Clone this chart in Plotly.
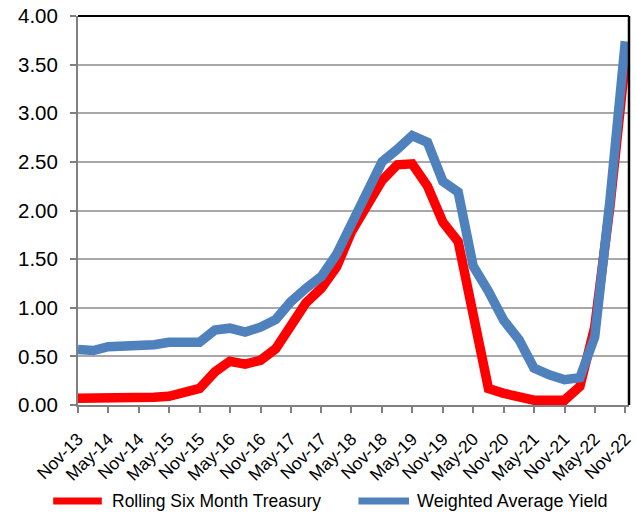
import pandas as pd
import plotly.graph_objects as go

# Quarterly observations, Nov-2013 through Nov-2022
quarters = pd.date_range("2013-11-01", "2022-11-01", freq="3MS")

rolling_six_month_treasury = [
    0.07, 0.07, 0.07, 0.06, 0.06, 0.08, 0.09, 0.12, 0.17,
    0.34, 0.45, 0.42, 0.46, 0.58, 0.80, 1.05, 1.20, 1.42,
    1.78, 2.07, 2.31, 2.47, 2.48, 2.25, 1.88, 1.68, 0.90,
    0.17, 0.12, 0.09, 0.05, 0.05, 0.05, 0.19, 0.80, 2.05,
    3.55,
]

weighted_average_yield = [
    0.57, 0.56, 0.60, 0.60, 0.62, 0.62, 0.645, 0.645, 0.645,
    0.77, 0.79, 0.75, 0.80, 0.88, 1.06, 1.20, 1.32, 1.55,
    1.86, 2.22, 2.50, 2.63, 2.77, 2.70, 2.30, 2.19, 1.43,
    1.17, 0.87, 0.67, 0.38, 0.31, 0.26, 0.28, 0.70, 2.11,
    3.74,
]

tick_dates = pd.date_range("2013-11-01", "2022-11-01", freq="6MS")
tick_labels = [
    "Nov-13", "May-14", "Nov-14", "May-15", "Nov-15", "May-16", "Nov-16",
    "May-17", "Nov-17", "May-18", "Nov-18", "May-19", "Nov-19", "May-20",
    "Nov-20", "May-21", "Nov-21", "May-22", "Nov-22",
]

series_names = ["Rolling Six Month Treasury", "Weighted Average Yield"]
series_colors = ["#FF0000", "#4F81BD"]

FONT = "Liberation Sans, Arial, sans-serif"

fig = go.Figure()
for name, values, color in zip(series_names,
                               [rolling_six_month_treasury, weighted_average_yield],
                               series_colors):
    fig.add_trace(go.Scatter(
        x=quarters, y=values, name=name, mode="lines",
        line=dict(color=color, width=9.5),
        showlegend=False,
    ))

fig.update_layout(
    width=636, height=515,
    margin=dict(l=78, r=2, t=16, b=110),
    paper_bgcolor="white", plot_bgcolor="white",
    font=dict(family=FONT, color="black"),
    xaxis=dict(
        type="date",
        range=["2013-11-01", "2022-11-23"],
        tickvals=tick_dates, ticktext=tick_labels,
        tickangle=-45,
        tickfont=dict(size=17.5, family=FONT, color="black"),
        ticks="outside", ticklen=6, tickwidth=1.5, tickcolor="#808080",
        ticklabelstandoff=9,
        ticklabeloverflow="allow",
        showline=True, linecolor="#808080", linewidth=2,
        showgrid=False, zeroline=False,
    ),
    yaxis=dict(
        range=[0, 4], dtick=0.5, tick0=0, tickformat=".2f",
        tickfont=dict(size=20.5, family=FONT, color="black"),
        ticks="outside", ticklen=6, tickwidth=1.5, tickcolor="#808080",
        ticklabelstandoff=8,
        showline=True, linecolor="#808080", linewidth=2,
        showgrid=True, gridcolor="#A8A8A8", gridwidth=1.5,
        zeroline=False,
    ),
)

# Black frame along the top and right of the plotting area
fig.add_shape(type="line", xref="paper", yref="paper", x0=0, x1=1, y0=1, y1=1,
              line=dict(color="black", width=2))
fig.add_shape(type="line", xref="paper", yref="paper", x0=1, x1=1, y0=0, y1=1,
              line=dict(color="black", width=2.5))

# Legend below the chart
legend_y = -0.2468
legend_items = [
    (-0.045, 0.0432, 0.0576, 17.5),
    (0.509, 0.6007, 0.6115, 18),
]
for (sx0, sx1, tx, fs), name, color in zip(legend_items, series_names, series_colors):
    fig.add_shape(type="line", xref="paper", yref="paper",
                  x0=sx0, x1=sx1, y0=legend_y, y1=legend_y,
                  line=dict(color=color, width=7))
    fig.add_annotation(xref="paper", yref="paper", x=tx, y=legend_y,
                       text=name, showarrow=False, xanchor="left", yanchor="middle",
                       font=dict(size=fs, family=FONT, color="black"))

fig.write_html("out.html")
